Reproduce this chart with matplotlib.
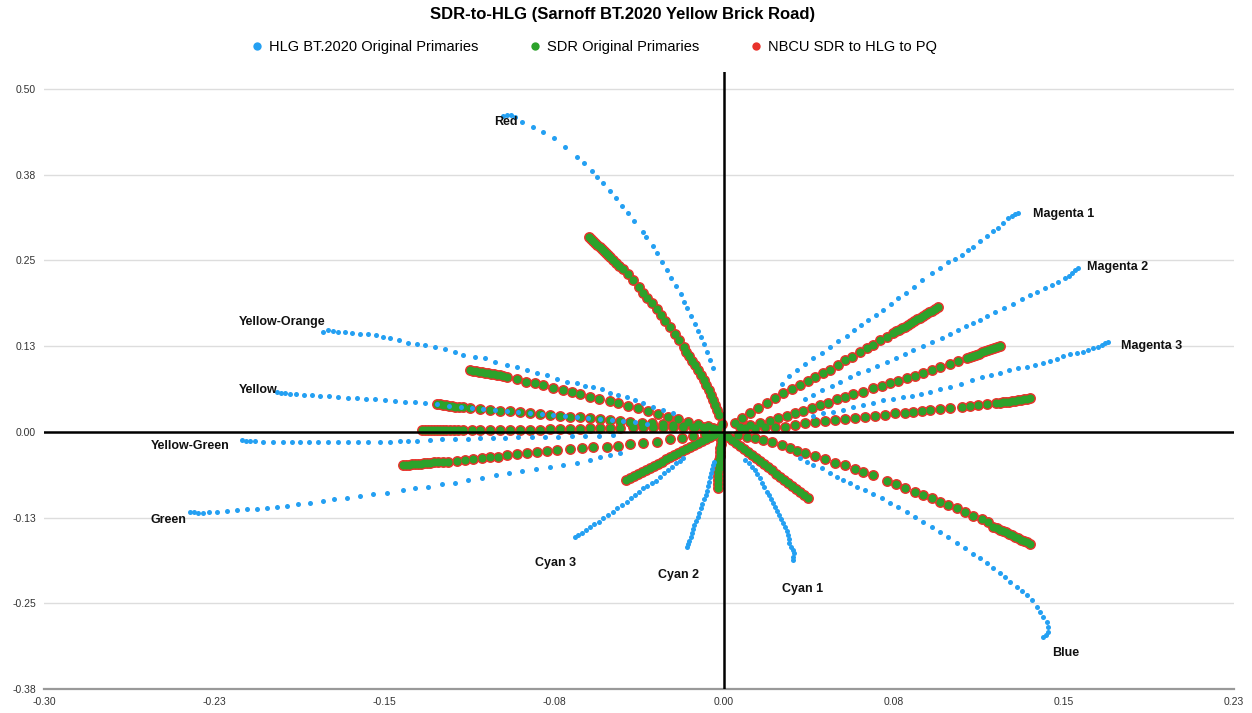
import matplotlib.pyplot as plt
from matplotlib.lines import Line2D

# HLG BT.2020 tracks (x, y), outer end first
hlg_red = [(-0.0976, 0.4606), (-0.0958, 0.4621), (-0.0940, 0.4621), (-0.0923, 0.4592), (-0.0892, 0.4519),
           (-0.0843, 0.4446), (-0.0799, 0.4373), (-0.0751, 0.4286), (-0.0702, 0.4155), (-0.0649, 0.4009),
           (-0.0618, 0.3921), (-0.0583, 0.3805), (-0.0561, 0.3717), (-0.0534, 0.3630), (-0.0503, 0.3513),
           (-0.0477, 0.3411), (-0.0450, 0.3294), (-0.0424, 0.3192), (-0.0397, 0.3076), (-0.0358, 0.2915),
           (-0.0344, 0.2843), (-0.0313, 0.2711), (-0.0296, 0.2609), (-0.0274, 0.2478), (-0.0252, 0.2362),
           (-0.0234, 0.2245), (-0.0212, 0.2128), (-0.0190, 0.2012), (-0.0177, 0.1895), (-0.0163, 0.1808),
           (-0.0146, 0.1691), (-0.0128, 0.1574), (-0.0115, 0.1472), (-0.0102, 0.1385), (-0.0088, 0.1283),
           (-0.0075, 0.1166), (-0.0062, 0.1050), (-0.0049, 0.0933)]
hlg_yellow_orange = [(-0.1770, 0.1458), (-0.1748, 0.1487), (-0.1726, 0.1472), (-0.1704, 0.1458), (-0.1673, 0.1458),
                     (-0.1642, 0.1443), (-0.1607, 0.1429), (-0.1572, 0.1429), (-0.1536, 0.1414), (-0.1506, 0.1385),
                     (-0.1475, 0.1370), (-0.1435, 0.1341), (-0.1395, 0.1297), (-0.1355, 0.1283), (-0.1320, 0.1268),
                     (-0.1276, 0.1239), (-0.1232, 0.1210), (-0.1188, 0.1166), (-0.1152, 0.1122), (-0.1099, 0.1093),
                     (-0.1055, 0.1079), (-0.1011, 0.1020), (-0.0958, 0.0977), (-0.0914, 0.0948), (-0.0870, 0.0904),
                     (-0.0826, 0.0860), (-0.0781, 0.0831), (-0.0737, 0.0773), (-0.0693, 0.0729), (-0.0649, 0.0714),
                     (-0.0614, 0.0671), (-0.0578, 0.0656), (-0.0539, 0.0627), (-0.0503, 0.0569), (-0.0468, 0.0539),
                     (-0.0428, 0.0510), (-0.0393, 0.0466), (-0.0358, 0.0423), (-0.0313, 0.0364), (-0.0269, 0.0321),
                     (-0.0225, 0.0277)]
hlg_yellow = [(-0.1974, 0.0583), (-0.1956, 0.0569), (-0.1938, 0.0569), (-0.1916, 0.0554), (-0.1890, 0.0554),
              (-0.1854, 0.0539), (-0.1819, 0.0539), (-0.1784, 0.0525), (-0.1744, 0.0525), (-0.1704, 0.0510),
              (-0.1660, 0.0496), (-0.1620, 0.0496), (-0.1581, 0.0481), (-0.1541, 0.0481), (-0.1497, 0.0466),
              (-0.1453, 0.0452), (-0.1408, 0.0437), (-0.1364, 0.0437), (-0.1320, 0.0423), (-0.1267, 0.0408),
              (-0.1214, 0.0379), (-0.1161, 0.0364), (-0.1113, 0.0350), (-0.1064, 0.0335), (-0.1011, 0.0321),
              (-0.0958, 0.0306), (-0.0909, 0.0292), (-0.0857, 0.0277), (-0.0804, 0.0262), (-0.0755, 0.0248),
              (-0.0702, 0.0233), (-0.0649, 0.0219), (-0.0600, 0.0204), (-0.0547, 0.0190), (-0.0494, 0.0175),
              (-0.0446, 0.0160), (-0.0393, 0.0146), (-0.0340, 0.0117)]
hlg_yellow_green = [(-0.2128, -0.0117), (-0.2110, -0.0131), (-0.2093, -0.0131), (-0.2071, -0.0131), (-0.2035, -0.0146),
                    (-0.1991, -0.0146), (-0.1947, -0.0146), (-0.1907, -0.0146), (-0.1872, -0.0146), (-0.1832, -0.0146),
                    (-0.1792, -0.0146), (-0.1748, -0.0146), (-0.1704, -0.0146), (-0.1660, -0.0146), (-0.1616, -0.0146),
                    (-0.1572, -0.0146), (-0.1519, -0.0146), (-0.1475, -0.0146), (-0.1430, -0.0131), (-0.1395, -0.0131),
                    (-0.1355, -0.0131), (-0.1298, -0.0117), (-0.1245, -0.0102), (-0.1188, -0.0102), (-0.1130, -0.0102),
                    (-0.1077, -0.0087), (-0.1020, -0.0087), (-0.0967, -0.0087), (-0.0909, -0.0073), (-0.0848, -0.0073),
                    (-0.0790, -0.0073), (-0.0733, -0.0073), (-0.0671, -0.0058), (-0.0614, -0.0058), (-0.0552, -0.0058),
                    (-0.0490, -0.0044)]
hlg_green = [(-0.2358, -0.1166), (-0.2340, -0.1166), (-0.2322, -0.1181), (-0.2300, -0.1181), (-0.2274, -0.1166),
             (-0.2238, -0.1166), (-0.2194, -0.1152), (-0.2150, -0.1137), (-0.2106, -0.1122), (-0.2062, -0.1122),
             (-0.2018, -0.1108), (-0.1974, -0.1093), (-0.1929, -0.1079), (-0.1881, -0.1050), (-0.1828, -0.1035),
             (-0.1770, -0.1006), (-0.1722, -0.0977), (-0.1664, -0.0962), (-0.1607, -0.0933), (-0.1550, -0.0904),
             (-0.1488, -0.0889), (-0.1417, -0.0845), (-0.1364, -0.0816), (-0.1307, -0.0802), (-0.1245, -0.0758),
             (-0.1188, -0.0743), (-0.1130, -0.0700), (-0.1068, -0.0671), (-0.1007, -0.0627), (-0.0949, -0.0598),
             (-0.0892, -0.0569), (-0.0830, -0.0539), (-0.0768, -0.0510), (-0.0711, -0.0481), (-0.0649, -0.0452),
             (-0.0592, -0.0408), (-0.0547, -0.0364), (-0.0503, -0.0335), (-0.0459, -0.0306)]
hlg_cyan3 = [(-0.0658, -0.1531), (-0.0645, -0.1501), (-0.0627, -0.1472), (-0.0609, -0.1429), (-0.0592, -0.1385),
             (-0.0574, -0.1341), (-0.0552, -0.1312), (-0.0534, -0.1254), (-0.0512, -0.1210), (-0.0490, -0.1166),
             (-0.0472, -0.1108), (-0.0450, -0.1064), (-0.0428, -0.1020), (-0.0411, -0.0962), (-0.0393, -0.0918),
             (-0.0375, -0.0875), (-0.0358, -0.0816), (-0.0340, -0.0787), (-0.0318, -0.0743), (-0.0300, -0.0714),
             (-0.0283, -0.0656), (-0.0265, -0.0598), (-0.0247, -0.0554), (-0.0230, -0.0510), (-0.0212, -0.0452),
             (-0.0194, -0.0423), (-0.0181, -0.0379)]
hlg_cyan2 = [(-0.0163, -0.1676), (-0.0159, -0.1633), (-0.0155, -0.1589), (-0.0146, -0.1531), (-0.0141, -0.1472),
             (-0.0137, -0.1414), (-0.0132, -0.1356), (-0.0124, -0.1297), (-0.0115, -0.1239), (-0.0110, -0.1181),
             (-0.0102, -0.1108), (-0.0097, -0.1050), (-0.0088, -0.0977), (-0.0079, -0.0918), (-0.0075, -0.0860),
             (-0.0071, -0.0787), (-0.0066, -0.0729), (-0.0062, -0.0656), (-0.0057, -0.0598), (-0.0053, -0.0539),
             (-0.0049, -0.0481), (-0.0044, -0.0437)]
hlg_cyan1 = [(0.0305, -0.1866), (0.0305, -0.1822), (0.0309, -0.1764), (0.0305, -0.1720), (0.0296, -0.1676),
             (0.0287, -0.1618), (0.0287, -0.1560), (0.0283, -0.1501), (0.0278, -0.1443), (0.0269, -0.1385),
             (0.0260, -0.1327), (0.0252, -0.1268), (0.0243, -0.1210), (0.0234, -0.1152), (0.0225, -0.1093),
             (0.0216, -0.1035), (0.0208, -0.0977), (0.0199, -0.0918), (0.0190, -0.0875), (0.0177, -0.0802),
             (0.0168, -0.0743), (0.0159, -0.0671), (0.0146, -0.0612), (0.0137, -0.0554), (0.0124, -0.0510),
             (0.0110, -0.0452), (0.0093, -0.0408)]
hlg_blue = [(0.1408, -0.2988), (0.1422, -0.2959), (0.1430, -0.2915), (0.1430, -0.2843), (0.1426, -0.2770),
            (0.1408, -0.2697), (0.1395, -0.2624), (0.1382, -0.2551), (0.1360, -0.2449), (0.1338, -0.2376),
            (0.1316, -0.2318), (0.1294, -0.2259), (0.1263, -0.2187), (0.1241, -0.2114), (0.1219, -0.2055),
            (0.1188, -0.1983), (0.1161, -0.1910), (0.1130, -0.1837), (0.1099, -0.1778), (0.1064, -0.1691),
            (0.1029, -0.1618), (0.0989, -0.1531), (0.0954, -0.1458), (0.0918, -0.1385), (0.0879, -0.1312),
            (0.0843, -0.1239), (0.0808, -0.1166), (0.0768, -0.1093), (0.0733, -0.1035), (0.0698, -0.0962),
            (0.0658, -0.0904), (0.0623, -0.0845), (0.0587, -0.0802), (0.0556, -0.0743), (0.0525, -0.0700),
            (0.0499, -0.0656), (0.0468, -0.0598), (0.0433, -0.0525), (0.0393, -0.0481), (0.0366, -0.0437),
            (0.0336, -0.0379)]
hlg_magenta1 = [(0.1298, 0.3192), (0.1285, 0.3178), (0.1272, 0.3149), (0.1254, 0.3120), (0.1232, 0.3047),
                (0.1210, 0.2974), (0.1188, 0.2930), (0.1161, 0.2857), (0.1130, 0.2784), (0.1099, 0.2697),
                (0.1077, 0.2653), (0.1051, 0.2580), (0.1020, 0.2522), (0.0989, 0.2478), (0.0954, 0.2391),
                (0.0918, 0.2318), (0.0874, 0.2216), (0.0839, 0.2114), (0.0804, 0.2026), (0.0768, 0.1953),
                (0.0737, 0.1866), (0.0702, 0.1778), (0.0671, 0.1706), (0.0636, 0.1633), (0.0605, 0.1560),
                (0.0574, 0.1487), (0.0543, 0.1399), (0.0503, 0.1327), (0.0468, 0.1239), (0.0433, 0.1152),
                (0.0393, 0.1079), (0.0358, 0.0991), (0.0322, 0.0904), (0.0287, 0.0816), (0.0256, 0.0700)]
hlg_magenta2 = [(0.1563, 0.2391), (0.1550, 0.2362), (0.1536, 0.2318), (0.1523, 0.2274), (0.1506, 0.2245),
                (0.1475, 0.2187), (0.1448, 0.2143), (0.1417, 0.2099), (0.1382, 0.2041), (0.1351, 0.1997),
                (0.1316, 0.1939), (0.1276, 0.1866), (0.1236, 0.1808), (0.1196, 0.1749), (0.1161, 0.1691),
                (0.1130, 0.1633), (0.1099, 0.1589), (0.1068, 0.1545), (0.1033, 0.1487), (0.0998, 0.1429),
                (0.0962, 0.1370), (0.0918, 0.1312), (0.0879, 0.1254), (0.0834, 0.1195), (0.0799, 0.1137),
                (0.0759, 0.1079), (0.0720, 0.1020), (0.0675, 0.0962), (0.0636, 0.0904), (0.0592, 0.0860),
                (0.0556, 0.0802), (0.0512, 0.0729), (0.0477, 0.0671), (0.0433, 0.0612), (0.0393, 0.0539),
                (0.0358, 0.0481)]
hlg_magenta3 = [(0.1695, 0.1312), (0.1682, 0.1297), (0.1669, 0.1268), (0.1651, 0.1239), (0.1629, 0.1224),
                (0.1607, 0.1195), (0.1585, 0.1166), (0.1558, 0.1152), (0.1528, 0.1137), (0.1497, 0.1108),
                (0.1470, 0.1064), (0.1439, 0.1035), (0.1408, 0.1006), (0.1373, 0.0977), (0.1338, 0.0948),
                (0.1298, 0.0933), (0.1258, 0.0904), (0.1219, 0.0860), (0.1179, 0.0831), (0.1139, 0.0802),
                (0.1095, 0.0758), (0.1046, 0.0700), (0.0998, 0.0656), (0.0954, 0.0627), (0.0909, 0.0583),
                (0.0870, 0.0554), (0.0830, 0.0525), (0.0790, 0.0510), (0.0746, 0.0481), (0.0702, 0.0466),
                (0.0658, 0.0423), (0.0614, 0.0394), (0.0570, 0.0364), (0.0525, 0.0321), (0.0481, 0.0292),
                (0.0437, 0.0277), (0.0393, 0.0233)]

# SDR original primaries (x, y), outer end first
sdr_red = [(-0.0596, 0.2843), (-0.0587, 0.2813), (-0.0578, 0.2784), (-0.0570, 0.2755), (-0.0561, 0.2726),
           (-0.0547, 0.2697), (-0.0539, 0.2668), (-0.0530, 0.2638), (-0.0521, 0.2609), (-0.0512, 0.2580),
           (-0.0503, 0.2551), (-0.0490, 0.2507), (-0.0477, 0.2464), (-0.0464, 0.2420), (-0.0446, 0.2376),
           (-0.0424, 0.2303), (-0.0402, 0.2216), (-0.0375, 0.2114), (-0.0358, 0.2026), (-0.0340, 0.1953),
           (-0.0318, 0.1880), (-0.0296, 0.1793), (-0.0278, 0.1706), (-0.0260, 0.1618), (-0.0238, 0.1531),
           (-0.0216, 0.1429), (-0.0199, 0.1341), (-0.0177, 0.1239), (-0.0166, 0.1170), (-0.0155, 0.1108),
           (-0.0141, 0.1040), (-0.0128, 0.0977), (-0.0115, 0.0900), (-0.0102, 0.0831), (-0.0090, 0.0760),
           (-0.0079, 0.0685), (-0.0068, 0.0610), (-0.0057, 0.0539), (-0.0048, 0.0465), (-0.0040, 0.0394),
           (-0.0031, 0.0320), (-0.0022, 0.0248), (-0.0009, 0.0117)]
sdr_yellow_orange = [(-0.1121, 0.0904), (-0.1108, 0.0889), (-0.1095, 0.0889), (-0.1082, 0.0875), (-0.1068, 0.0875),
                     (-0.1055, 0.0860), (-0.1042, 0.0860), (-0.1029, 0.0845), (-0.1015, 0.0845), (-0.1002, 0.0831),
                     (-0.0989, 0.0831), (-0.0976, 0.0816), (-0.0958, 0.0802), (-0.0914, 0.0773), (-0.0874, 0.0729),
                     (-0.0834, 0.0714), (-0.0799, 0.0685), (-0.0755, 0.0641), (-0.0711, 0.0612), (-0.0671, 0.0583),
                     (-0.0636, 0.0554), (-0.0592, 0.0510), (-0.0552, 0.0481), (-0.0503, 0.0452), (-0.0468, 0.0423),
                     (-0.0424, 0.0379), (-0.0380, 0.0350), (-0.0336, 0.0306), (-0.0291, 0.0262), (-0.0247, 0.0219),
                     (-0.0203, 0.0190), (-0.0159, 0.0146), (-0.0115, 0.0117), (-0.0071, 0.0087), (-0.0026, 0.0044)]
sdr_yellow = [(-0.1267, 0.0408), (-0.1254, 0.0408), (-0.1241, 0.0394), (-0.1227, 0.0394), (-0.1214, 0.0379),
              (-0.1201, 0.0379), (-0.1188, 0.0364), (-0.1170, 0.0364), (-0.1152, 0.0364), (-0.1121, 0.0350),
              (-0.1077, 0.0335), (-0.1033, 0.0321), (-0.0989, 0.0306), (-0.0945, 0.0306), (-0.0901, 0.0292),
              (-0.0857, 0.0277), (-0.0812, 0.0262), (-0.0768, 0.0248), (-0.0724, 0.0233), (-0.0680, 0.0219),
              (-0.0636, 0.0219), (-0.0592, 0.0204), (-0.0547, 0.0190), (-0.0503, 0.0175), (-0.0459, 0.0160),
              (-0.0415, 0.0146), (-0.0362, 0.0131), (-0.0318, 0.0131), (-0.0269, 0.0117), (-0.0225, 0.0102),
              (-0.0181, 0.0087), (-0.0128, 0.0073), (-0.0084, 0.0058), (-0.0040, 0.0044)]
sdr_yellow_green = [(-0.1333, 0.0029), (-0.1320, 0.0029), (-0.1307, 0.0029), (-0.1294, 0.0029), (-0.1280, 0.0029),
                    (-0.1267, 0.0029), (-0.1254, 0.0029), (-0.1241, 0.0029), (-0.1227, 0.0029), (-0.1210, 0.0029),
                    (-0.1192, 0.0029), (-0.1174, 0.0029), (-0.1152, 0.0029), (-0.1113, 0.0029), (-0.1077, 0.0029),
                    (-0.1033, 0.0029), (-0.0989, 0.0029), (-0.0945, 0.0029), (-0.0901, 0.0029), (-0.0857, 0.0029),
                    (-0.0812, 0.0029), (-0.0768, 0.0044), (-0.0724, 0.0044), (-0.0680, 0.0044), (-0.0636, 0.0044),
                    (-0.0592, 0.0058), (-0.0547, 0.0058), (-0.0503, 0.0058), (-0.0459, 0.0058), (-0.0402, 0.0073),
                    (-0.0358, 0.0073), (-0.0313, 0.0073), (-0.0269, 0.0073), (-0.0225, 0.0073), (-0.0181, 0.0073),
                    (-0.0137, 0.0073), (-0.0093, 0.0073), (-0.0049, 0.0058)]
sdr_green = [(-0.1417, -0.0481), (-0.1404, -0.0481), (-0.1391, -0.0481), (-0.1377, -0.0466), (-0.1364, -0.0466),
             (-0.1351, -0.0466), (-0.1338, -0.0466), (-0.1325, -0.0452), (-0.1311, -0.0452), (-0.1298, -0.0452),
             (-0.1280, -0.0437), (-0.1263, -0.0437), (-0.1241, -0.0437), (-0.1219, -0.0437), (-0.1179, -0.0423),
             (-0.1143, -0.0408), (-0.1108, -0.0394), (-0.1068, -0.0379), (-0.1033, -0.0364), (-0.0998, -0.0364),
             (-0.0958, -0.0335), (-0.0914, -0.0321), (-0.0870, -0.0306), (-0.0826, -0.0292), (-0.0781, -0.0277),
             (-0.0737, -0.0262), (-0.0680, -0.0248), (-0.0627, -0.0233), (-0.0578, -0.0219), (-0.0517, -0.0219),
             (-0.0468, -0.0204), (-0.0415, -0.0175), (-0.0358, -0.0160), (-0.0296, -0.0146), (-0.0238, -0.0102),
             (-0.0185, -0.0087), (-0.0137, -0.0058), (-0.0084, -0.0029), (-0.0040, -0.0015)]
sdr_cyan3 = [(-0.0433, -0.0700), (-0.0415, -0.0671), (-0.0397, -0.0641), (-0.0380, -0.0612), (-0.0362, -0.0583),
             (-0.0344, -0.0554), (-0.0327, -0.0525), (-0.0309, -0.0496), (-0.0291, -0.0466), (-0.0274, -0.0437),
             (-0.0256, -0.0394), (-0.0238, -0.0364), (-0.0221, -0.0335), (-0.0203, -0.0306), (-0.0185, -0.0277),
             (-0.0168, -0.0248), (-0.0150, -0.0219), (-0.0132, -0.0190), (-0.0115, -0.0160), (-0.0097, -0.0131),
             (-0.0079, -0.0102), (-0.0062, -0.0073), (-0.0044, -0.0044), (-0.0026, -0.0015)]
sdr_cyan2 = [(-0.0026, -0.0816), (-0.0026, -0.0758), (-0.0026, -0.0700), (-0.0026, -0.0641), (-0.0026, -0.0583),
             (-0.0022, -0.0525), (-0.0022, -0.0466), (-0.0022, -0.0408), (-0.0018, -0.0350), (-0.0018, -0.0292),
             (-0.0018, -0.0233), (-0.0013, -0.0175), (-0.0013, -0.0117), (-0.0009, -0.0058)]
sdr_cyan1 = [(0.0371, -0.0962), (0.0353, -0.0918), (0.0336, -0.0875), (0.0318, -0.0831), (0.0300, -0.0787),
             (0.0283, -0.0743), (0.0265, -0.0700), (0.0247, -0.0656), (0.0230, -0.0612), (0.0212, -0.0554),
             (0.0194, -0.0510), (0.0177, -0.0466), (0.0159, -0.0423), (0.0141, -0.0379), (0.0124, -0.0335),
             (0.0106, -0.0292), (0.0088, -0.0248), (0.0071, -0.0204), (0.0053, -0.0160), (0.0035, -0.0117),
             (0.0018, -0.0073)]
sdr_blue = [(0.1351, -0.1633), (0.1338, -0.1603), (0.1325, -0.1589), (0.1311, -0.1574), (0.1298, -0.1545),
            (0.1285, -0.1531), (0.1272, -0.1501), (0.1258, -0.1487), (0.1245, -0.1458), (0.1232, -0.1443),
            (0.1219, -0.1429), (0.1205, -0.1399), (0.1188, -0.1385), (0.1166, -0.1312), (0.1139, -0.1268),
            (0.1099, -0.1224), (0.1064, -0.1166), (0.1029, -0.1108), (0.0989, -0.1064), (0.0954, -0.1020),
            (0.0918, -0.0962), (0.0879, -0.0918), (0.0843, -0.0875), (0.0799, -0.0816), (0.0759, -0.0758),
            (0.0720, -0.0714), (0.0658, -0.0627), (0.0614, -0.0583), (0.0578, -0.0539), (0.0534, -0.0481),
            (0.0490, -0.0452), (0.0446, -0.0394), (0.0402, -0.0350), (0.0358, -0.0306), (0.0322, -0.0277),
            (0.0291, -0.0233), (0.0256, -0.0190), (0.0212, -0.0146), (0.0172, -0.0117), (0.0137, -0.0087),
            (0.0102, -0.0073), (0.0062, -0.0044)]
sdr_magenta1 = [(0.0945, 0.1822), (0.0932, 0.1793), (0.0918, 0.1764), (0.0905, 0.1749), (0.0892, 0.1720),
                (0.0879, 0.1691), (0.0865, 0.1662), (0.0852, 0.1647), (0.0839, 0.1618), (0.0826, 0.1589),
                (0.0812, 0.1560), (0.0799, 0.1531), (0.0786, 0.1516), (0.0773, 0.1487), (0.0759, 0.1472),
                (0.0746, 0.1443), (0.0720, 0.1385), (0.0689, 0.1341), (0.0658, 0.1268), (0.0631, 0.1224),
                (0.0600, 0.1166), (0.0565, 0.1093), (0.0534, 0.1050), (0.0503, 0.0977), (0.0468, 0.0904),
                (0.0437, 0.0860), (0.0402, 0.0802), (0.0371, 0.0743), (0.0336, 0.0685), (0.0300, 0.0627),
                (0.0260, 0.0569), (0.0225, 0.0496), (0.0190, 0.0423), (0.0150, 0.0350), (0.0115, 0.0277),
                (0.0079, 0.0204), (0.0049, 0.0131)]
sdr_magenta2 = [(0.1219, 0.1254), (0.1205, 0.1239), (0.1192, 0.1224), (0.1179, 0.1210), (0.1166, 0.1195),
                (0.1152, 0.1181), (0.1139, 0.1166), (0.1126, 0.1137), (0.1113, 0.1122), (0.1099, 0.1108),
                (0.1086, 0.1093), (0.1073, 0.1079), (0.1033, 0.1035), (0.0998, 0.0991), (0.0954, 0.0948),
                (0.0918, 0.0904), (0.0879, 0.0860), (0.0843, 0.0816), (0.0808, 0.0787), (0.0768, 0.0743),
                (0.0733, 0.0714), (0.0698, 0.0671), (0.0658, 0.0641), (0.0614, 0.0583), (0.0570, 0.0554),
                (0.0534, 0.0510), (0.0499, 0.0481), (0.0459, 0.0423), (0.0424, 0.0394), (0.0389, 0.0350),
                (0.0349, 0.0306), (0.0313, 0.0277), (0.0278, 0.0233), (0.0238, 0.0204), (0.0203, 0.0160),
                (0.0159, 0.0131), (0.0115, 0.0102), (0.0071, 0.0073)]
sdr_magenta3 = [(0.1351, 0.0496), (0.1338, 0.0481), (0.1325, 0.0481), (0.1311, 0.0466), (0.1298, 0.0466),
                (0.1285, 0.0452), (0.1272, 0.0452), (0.1258, 0.0437), (0.1245, 0.0437), (0.1232, 0.0437),
                (0.1219, 0.0423), (0.1201, 0.0423), (0.1161, 0.0408), (0.1121, 0.0394), (0.1086, 0.0379),
                (0.1051, 0.0364), (0.0998, 0.0350), (0.0954, 0.0335), (0.0909, 0.0321), (0.0874, 0.0306),
                (0.0834, 0.0292), (0.0799, 0.0277), (0.0755, 0.0277), (0.0711, 0.0248), (0.0667, 0.0233),
                (0.0623, 0.0219), (0.0578, 0.0204), (0.0534, 0.0190), (0.0490, 0.0175), (0.0446, 0.0160),
                (0.0402, 0.0146), (0.0358, 0.0131), (0.0313, 0.0102), (0.0269, 0.0073), (0.0225, 0.0073),
                (0.0181, 0.0073), (0.0137, 0.0058), (0.0093, 0.0058)]

hlg_tracks = [hlg_red, hlg_yellow_orange, hlg_yellow, hlg_yellow_green, hlg_green, hlg_cyan3,
              hlg_cyan2, hlg_cyan1, hlg_blue, hlg_magenta1, hlg_magenta2, hlg_magenta3]
sdr_tracks = [sdr_red, sdr_yellow_orange, sdr_yellow, sdr_yellow_green, sdr_green, sdr_cyan3,
              sdr_cyan2, sdr_cyan1, sdr_blue, sdr_magenta1, sdr_magenta2, sdr_magenta3]
# NBCU SDR->HLG->PQ round trip lands on the SDR points
nbcu_tracks = sdr_tracks

label_names = ['Red', 'Magenta 1', 'Magenta 2', 'Magenta 3', 'Yellow-Orange', 'Yellow',
               'Yellow-Green', 'Green', 'Cyan 3', 'Cyan 2', 'Cyan 1', 'Blue']
label_x = [-0.1015, 0.1364, 0.1602, 0.1753, -0.2141, -0.2141, -0.2530, -0.2530, -0.0834, -0.0291, 0.0256, 0.1448]
label_y = [0.452, 0.318, 0.2405, 0.1254, 0.1603, 0.0612, -0.0204, -0.1283, -0.1910, -0.2085, -0.2289, -0.3222]

x_ticks = [-0.30, -0.225, -0.15, -0.075, 0.0, 0.075, 0.15, 0.225]
x_tick_labels = ['-0.30', '-0.23', '-0.15', '-0.08', '0.00', '0.08', '0.15', '0.23']
y_ticks = [-0.375, -0.25, -0.125, 0.0, 0.125, 0.25, 0.375, 0.5]
y_tick_labels = ['-0.38', '-0.25', '-0.13', '0.00', '0.13', '0.25', '0.38', '0.50']

HLG_COLOR = '#24A0F2'
SDR_COLOR = '#2CA22B'
NBCU_COLOR = '#E8322B'

plt.rcParams['font.family'] = ['Liberation Sans', 'DejaVu Sans']

fig = plt.figure(figsize=(12.52, 7.13), dpi=100)
ax = fig.add_axes([0.0355, 0.0337, 0.950, 0.8654])

for pts in nbcu_tracks:
    ax.scatter([p[0] for p in pts], [p[1] for p in pts], s=62, color=NBCU_COLOR, lw=0, zorder=2)
for pts in sdr_tracks:
    ax.scatter([p[0] for p in pts], [p[1] for p in pts], s=33, color=SDR_COLOR, lw=0, zorder=3)
for pts in hlg_tracks:
    ax.scatter([p[0] for p in pts], [p[1] for p in pts], s=13, color=HLG_COLOR, lw=0, zorder=4)

ax.axhline(0, color='black', lw=1.8, zorder=5)
ax.axvline(0, color='black', lw=1.8, zorder=5)

for name, lx, ly in zip(label_names, label_x, label_y):
    ax.text(lx, ly, name, ha='left', va='center', fontsize=9, fontweight='bold',
            color='#111111', zorder=6)

ax.set_xlim(-0.30, 0.225)
ax.set_ylim(-0.375, 0.525)
ax.set_xticks(x_ticks)
ax.set_xticklabels(x_tick_labels)
ax.set_yticks(y_ticks)
ax.set_yticklabels(y_tick_labels)
ax.tick_params(length=0, labelsize=7.5, labelcolor='#333333', pad=6)
ax.grid(axis='y', color='#dddddd', lw=1, zorder=0)
ax.set_axisbelow(True)
for side in ['top', 'right', 'left']:
    ax.spines[side].set_visible(False)
ax.spines['bottom'].set_color('#999999')
ax.spines['bottom'].set_linewidth(1.6)

fig.text(0.497, 0.979, 'SDR-to-HLG (Sarnoff BT.2020 Yellow Brick Road)', ha='center', va='center',
         fontsize=12, fontweight='bold')

handles = [
    Line2D([], [], ls='none', marker='o', ms=6, mec='none', mfc=HLG_COLOR, label='HLG BT.2020 Original Primaries'),
    Line2D([], [], ls='none', marker='o', ms=6, mec='none', mfc=SDR_COLOR, label='SDR Original Primaries'),
    Line2D([], [], ls='none', marker='o', ms=6, mec='none', mfc=NBCU_COLOR, label='NBCU SDR to HLG to PQ'),
]
fig.legend(handles=handles, loc='center', bbox_to_anchor=(0.474, 0.934), ncol=3, frameon=False,
           fontsize=10.5, handletextpad=0.3, columnspacing=3.4, handlelength=1.0)

fig.savefig('out.png', dpi=100)
